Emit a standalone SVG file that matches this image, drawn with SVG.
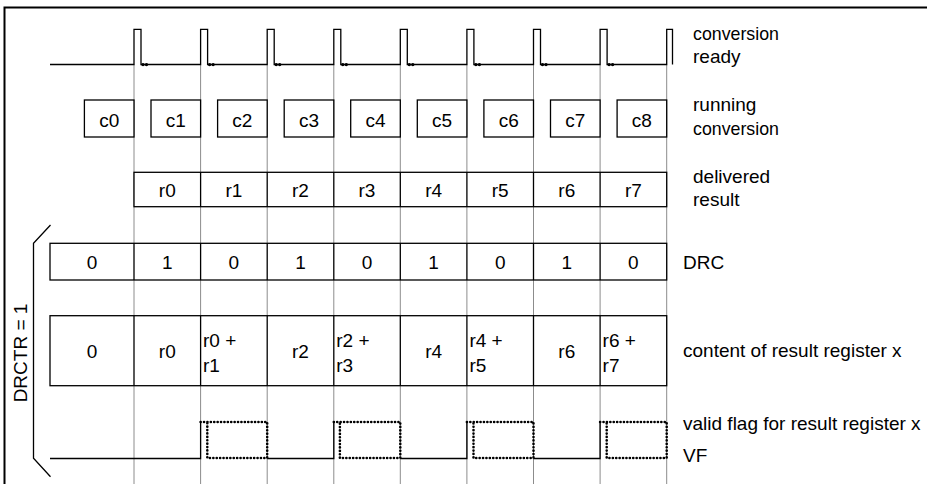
<svg xmlns="http://www.w3.org/2000/svg" width="927" height="484" viewBox="0 0 927 484">
<style>
text{font-family:"Liberation Sans",Arial,sans-serif;font-size:19px;fill:#000}
.m{text-anchor:middle}
.ln{stroke:#000;stroke-width:1.3;fill:none}
.box{stroke:#000;stroke-width:1.3;fill:#fff}
.grid{stroke:#8c8c8c;stroke-width:1;fill:none}
.dot{stroke:#000;stroke-width:2.6;fill:none;stroke-linecap:round;stroke-dasharray:0.1 3.3}
.frame{stroke:#000;stroke-width:2;fill:none}
</style>
<rect width="927" height="484" fill="#fff"/>
<path class="frame" d="M4.5,484 V7.5 H927"/>

<g id="connectors">
<g id="gridlines" class="grid">
<path d="M134,64.5V484M200.6,64.5V484M267.2,64.5V484M333.8,64.5V484M400.3,64.5V484M466.9,64.5V484M533.5,64.5V484M600.1,64.5V484M666.7,64.5V484"/>
</g>
</g>

<g id="conversion-ready">
<path class="ln" d="M50,64.5H134V29.3H141V64.5H200.6V29.3H207.6V64.5H267.2V29.3H274.2V64.5H333.8V29.3H340.8V64.5H400.3V29.3H407.3V64.5H466.9V29.3H473.9V64.5H533.5V29.3H540.5V64.5H600.1V29.3H607.1V64.5H666.7V29.3H672.5V64.5"/>
<g fill="#000">
<circle cx="143" cy="64.6" r="1.7"/><circle cx="146.5" cy="64.6" r="1.7"/>
<circle cx="209.6" cy="64.6" r="1.7"/><circle cx="213.1" cy="64.6" r="1.7"/>
<circle cx="276.2" cy="64.6" r="1.7"/><circle cx="279.7" cy="64.6" r="1.7"/>
<circle cx="342.8" cy="64.6" r="1.7"/><circle cx="346.3" cy="64.6" r="1.7"/>
<circle cx="409.3" cy="64.6" r="1.7"/><circle cx="412.8" cy="64.6" r="1.7"/>
<circle cx="475.9" cy="64.6" r="1.7"/><circle cx="479.4" cy="64.6" r="1.7"/>
<circle cx="542.5" cy="64.6" r="1.7"/><circle cx="546" cy="64.6" r="1.7"/>
<circle cx="609.1" cy="64.6" r="1.7"/><circle cx="612.6" cy="64.6" r="1.7"/>
</g>
<text x="693" y="39.5" textLength="86" lengthAdjust="spacingAndGlyphs">conversion</text>
<text x="693" y="63">ready</text>
</g>

<g id="running-conversion">
<rect class="box" x="84.4" y="100" width="49.6" height="37"/>
<rect class="box" x="151" y="100" width="49.6" height="37"/>
<rect class="box" x="217.6" y="100" width="49.6" height="37"/>
<rect class="box" x="284.2" y="100" width="49.6" height="37"/>
<rect class="box" x="350.7" y="100" width="49.6" height="37"/>
<rect class="box" x="417.3" y="100" width="49.6" height="37"/>
<rect class="box" x="483.9" y="100" width="49.6" height="37"/>
<rect class="box" x="550.5" y="100" width="49.6" height="37"/>
<rect class="box" x="617.1" y="100" width="49.6" height="37"/>
<text class="m" x="109.2" y="127">c0</text>
<text class="m" x="175.8" y="127">c1</text>
<text class="m" x="242.4" y="127">c2</text>
<text class="m" x="309" y="127">c3</text>
<text class="m" x="375.5" y="127">c4</text>
<text class="m" x="442.1" y="127">c5</text>
<text class="m" x="508.7" y="127">c6</text>
<text class="m" x="575.3" y="127">c7</text>
<text class="m" x="641.9" y="127">c8</text>
<text x="693" y="111">running</text>
<text x="693" y="135" textLength="86" lengthAdjust="spacingAndGlyphs">conversion</text>
</g>

<g id="delivered-result">
<rect class="box" x="134" y="172.3" width="532.7" height="34.4"/>
<path class="ln" d="M200.6,172.3V206.7M267.2,172.3V206.7M333.8,172.3V206.7M400.3,172.3V206.7M466.9,172.3V206.7M533.5,172.3V206.7M600.1,172.3V206.7"/>
<text class="m" x="167.3" y="197">r0</text>
<text class="m" x="233.9" y="197">r1</text>
<text class="m" x="300.5" y="197">r2</text>
<text class="m" x="367" y="197">r3</text>
<text class="m" x="433.6" y="197">r4</text>
<text class="m" x="500.2" y="197">r5</text>
<text class="m" x="566.8" y="197">r6</text>
<text class="m" x="633.4" y="197">r7</text>
<text x="693" y="182.5">delivered</text>
<text x="693" y="205.5">result</text>
</g>

<g id="drc">
<rect class="box" x="50" y="243.3" width="616.7" height="36.7"/>
<path class="ln" d="M134,243.3V280M200.6,243.3V280M267.2,243.3V280M333.8,243.3V280M400.3,243.3V280M466.9,243.3V280M533.5,243.3V280M600.1,243.3V280"/>
<text class="m" x="92" y="269">0</text>
<text class="m" x="167.3" y="269">1</text>
<text class="m" x="233.9" y="269">0</text>
<text class="m" x="300.5" y="269">1</text>
<text class="m" x="367" y="269">0</text>
<text class="m" x="433.6" y="269">1</text>
<text class="m" x="500.2" y="269">0</text>
<text class="m" x="566.8" y="269">1</text>
<text class="m" x="633.4" y="269">0</text>
<text x="683" y="269">DRC</text>
</g>

<g id="result-register">
<rect class="box" x="50" y="315.7" width="616.7" height="70"/>
<path class="ln" d="M134,315.7V385.7M200.6,315.7V385.7M267.2,315.7V385.7M333.8,315.7V385.7M400.3,315.7V385.7M466.9,315.7V385.7M533.5,315.7V385.7M600.1,315.7V385.7"/>
<text class="m" x="92" y="357.5">0</text>
<text class="m" x="167.3" y="357.5">r0</text>
<text x="203" y="347">r0 +</text><text x="203" y="371.5">r1</text>
<text class="m" x="300.5" y="357.5">r2</text>
<text x="336.3" y="347">r2 +</text><text x="336.3" y="371.5">r3</text>
<text class="m" x="433.6" y="357.5">r4</text>
<text x="469.4" y="347">r4 +</text><text x="469.4" y="371.5">r5</text>
<text class="m" x="566.8" y="357.5">r6</text>
<text x="602.6" y="347">r6 +</text><text x="602.6" y="371.5">r7</text>
<text x="683" y="357">content of result register x</text>
</g>

<g id="valid-flag">
<path class="ln" d="M50,458.5H200.6V422M267.2,458.5H333.8V422M400.3,458.5H466.9V422M533.5,458.5H600.1V422"/>
<path class="dot" d="M200.6,422H267.2V458H207.3V422"/>
<path class="dot" d="M333.8,422H400.3V458H339.9V422"/>
<path class="dot" d="M466.9,422H533.5V458H473.5V422"/>
<path class="dot" d="M600.1,422H666.7V458H606.7V422"/>
<text x="683" y="430">valid flag for result register x</text>
<text x="683" y="461.5">VF</text>
</g>

<g id="drctr-bracket">
<path class="ln" d="M50.5,225L33.5,243.3V458.3L50.5,476.7"/>
<text class="m" transform="translate(26.5,353) rotate(-90)">DRCTR = 1</text>
</g>
</svg>
